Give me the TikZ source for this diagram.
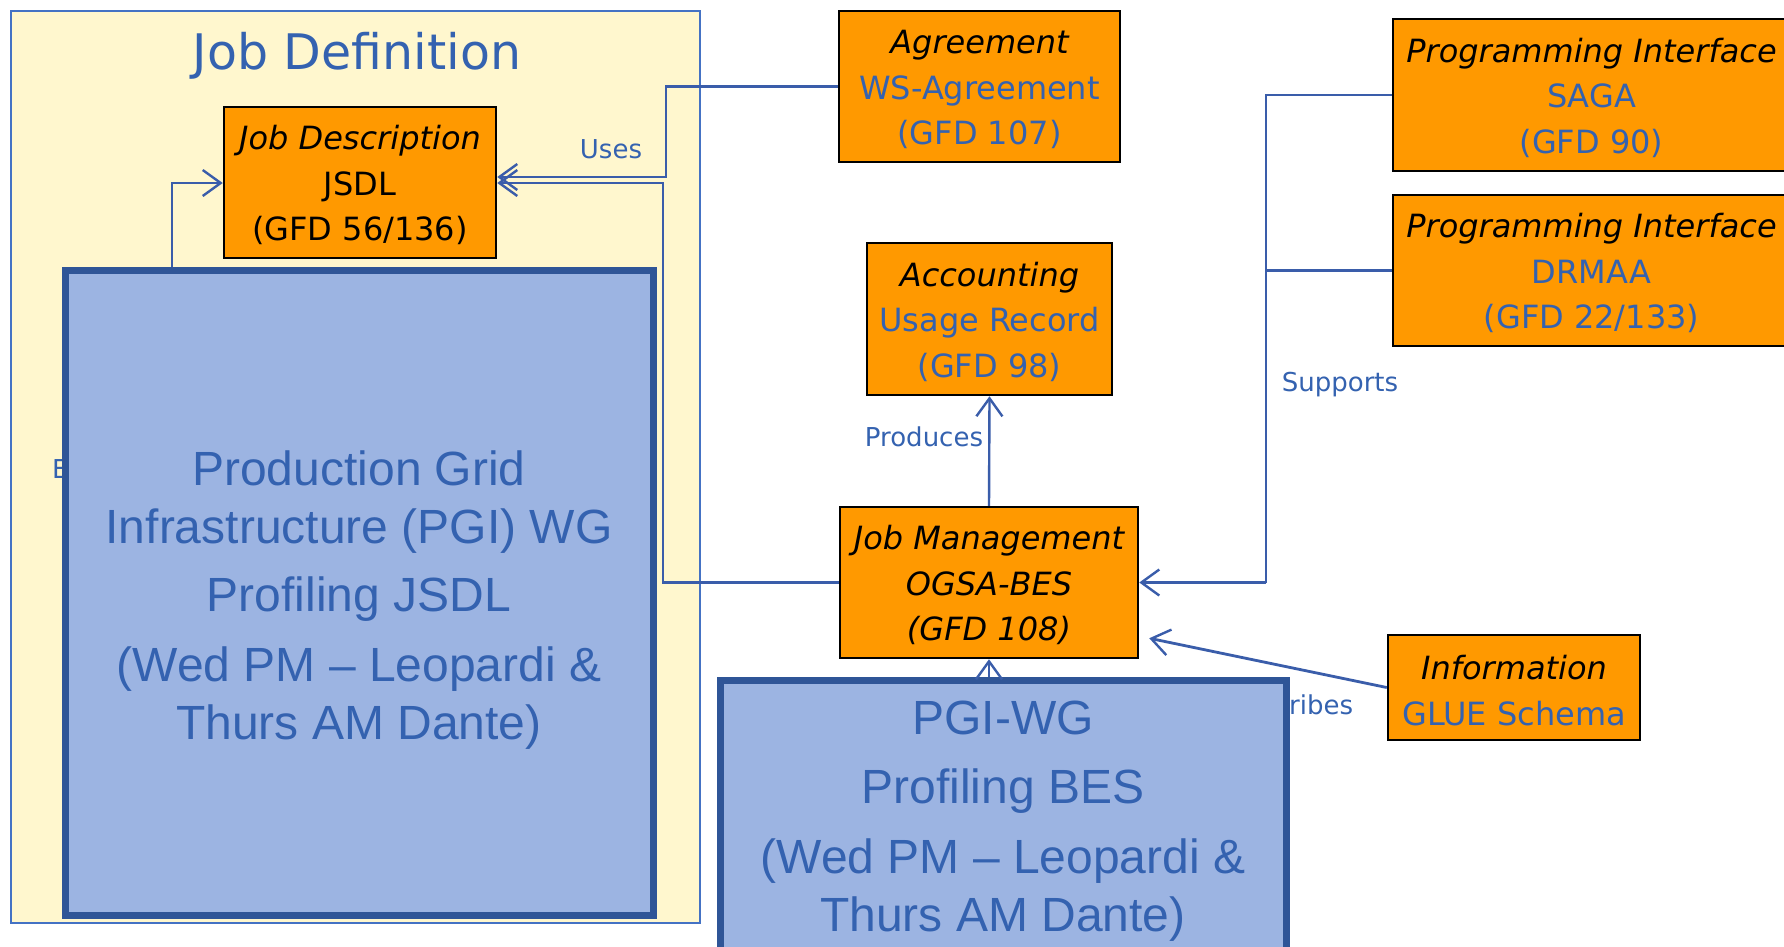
\documentclass[tikz,border=0pt]{standalone}
\usepackage{fontspec}
\setmainfont{DejaVu Sans}
\newfontfamily\arialf{Liberation Sans}
\usetikzlibrary{arrows.meta,calc}
\definecolor{orng}{RGB}{255,153,0}
\definecolor{txtblue}{RGB}{52,98,176}
\definecolor{lnblue}{RGB}{58,93,170}
\definecolor{pgifill}{RGB}{156,180,226}
\definecolor{pgiedge}{RGB}{47,85,151}
\definecolor{yelfill}{RGB}{255,247,206}
\definecolor{frameedge}{RGB}{68,114,196}
\newcommand{\topstrut}{\rule{0pt}{30pt}}
\begin{document}
\begin{tikzpicture}[x=1pt,y=-1pt,
  obox/.style={draw=black,line width=2.5pt,fill=orng,align=center,inner sep=0pt,font=\fontsize{32}{45.5}\selectfont},
  pgibox/.style={draw=pgiedge,line width=7pt,fill=pgifill,inner sep=0pt},
  conn/.style={draw=lnblue,line width=2.4pt},
  arr/.style={conn,-{Straight Barb[length=18pt,width=26pt,line width=2.4pt]}},
  lbl/.style={text=txtblue,font=\fontsize{26}{30}\selectfont,inner sep=0pt},
  bigtxt/.style={text=txtblue,align=center,font=\arialf\fontsize{48}{58}\selectfont,inner sep=0pt}
]
\useasboundingbox (0,0) rectangle (1784,946);
\clip (0,0) rectangle (1784,946);
\fill[white] (0,0) rectangle (1784,946);

% Job Definition frame
\node[draw=frameedge,line width=2pt,fill=yelfill,minimum width=689pt,minimum height=912pt,inner sep=0pt] (frame) at (355.5,467) {};
\node[text=txtblue,font=\fontsize{49}{58}\selectfont,anchor=base,inner sep=0pt] (title) at (357,69) {Job Definition};

% orange boxes
\node[obox,minimum width=272pt,minimum height=151pt] (jd) at (360,182.5)
  {\topstrut{\itshape Job Description}\\JSDL\\(GFD 56/136)};
\node[obox,minimum width=281pt,minimum height=151pt] (agr) at (979.5,86.5)
  {\topstrut{\itshape Agreement}\\\textcolor{txtblue}{WS-Agreement}\\\textcolor{txtblue}{(GFD 107)}};
\node[obox,minimum width=245pt,minimum height=152pt] (acc) at (989.5,319)
  {\topstrut{\itshape Accounting}\\\textcolor{txtblue}{Usage Record}\\\textcolor{txtblue}{(GFD 98)}};
\node[obox,minimum width=397pt,minimum height=152pt] (saga) at (1591.5,95)
  {\topstrut{\itshape Programming Interface}\\\textcolor{txtblue}{SAGA}\\\textcolor{txtblue}{(GFD 90)}};
\node[obox,minimum width=397pt,minimum height=151pt] (drmaa) at (1591.5,270.5)
  {\topstrut{\itshape Programming Interface}\\\textcolor{txtblue}{DRMAA}\\\textcolor{txtblue}{(GFD 22/133)}};
\node[obox,minimum width=298pt,minimum height=151pt] (jm) at (989,582.5)
  {\topstrut{\itshape Job Management}\\{\itshape OGSA-BES}\\{\itshape (GFD 108)}};
\node[obox,minimum width=252pt,minimum height=105pt] (info) at (1514,687.5)
  {\topstrut{\itshape Information}\\\textcolor{txtblue}{GLUE Schema}};

% connectors
\coordinate (lstart) at (172,320);
\draw[arr] (agr.west) -- (666,86.5) -- (666,177) -- ($(jd.east)+(0,-5.5)$);
\draw[arr] (jm.west) -- (663,582.5) -- (663,183) -- ($(jd.east)+(0,0.5)$);
\draw[arr] (lstart) -- (172,183) -- ($(jd.west)+(0,0.5)$);
\draw[arr] (jm.north) -- (acc.south);
\draw[conn] (saga.west) -- (1266,95) -- (1266,582.5);
\draw[conn] (drmaa.west) -- (1266,270.5);
\draw[arr] (1266,582.5) -- (jm.east);
\draw[arr,line width=2.8pt] (info.west) -- ($(jm.south east)+(10,-21)$);

% labels
\node[lbl] (uses) at (611,149) {Uses};
\node[lbl] (produces) at (924,437) {Produces};
\node[lbl] (supports) at (1340,385) {Supports};
\node[lbl,anchor=west] (elbl) at (52,469) {E};
\node[lbl,anchor=west] (ribes) at (1289,705) {ribes};

% PGI boxes on top
\node[pgibox,minimum width=588pt,minimum height=645pt] (pgi) at (359,592.5) {};
\node[bigtxt] (pgitxt) at (359,600)
  {Production Grid\\Infrastructure (PGI) WG\\[10pt]Profiling JSDL\\[12pt](Wed PM – Leopardi \&\\Thurs AM Dante)};
\node[pgibox,minimum width=566pt,minimum height=290pt] (pgiwg) at (1003,825) {};
\draw[arr] (jm.south |- pgiwg.north) -- (jm.south);
\node[bigtxt] (pgiwgtxt) at (1003,821)
  {PGI-WG\\[11pt]Profiling BES\\[12pt](Wed PM – Leopardi \&\\Thurs AM Dante)};
\end{tikzpicture}
\end{document}
